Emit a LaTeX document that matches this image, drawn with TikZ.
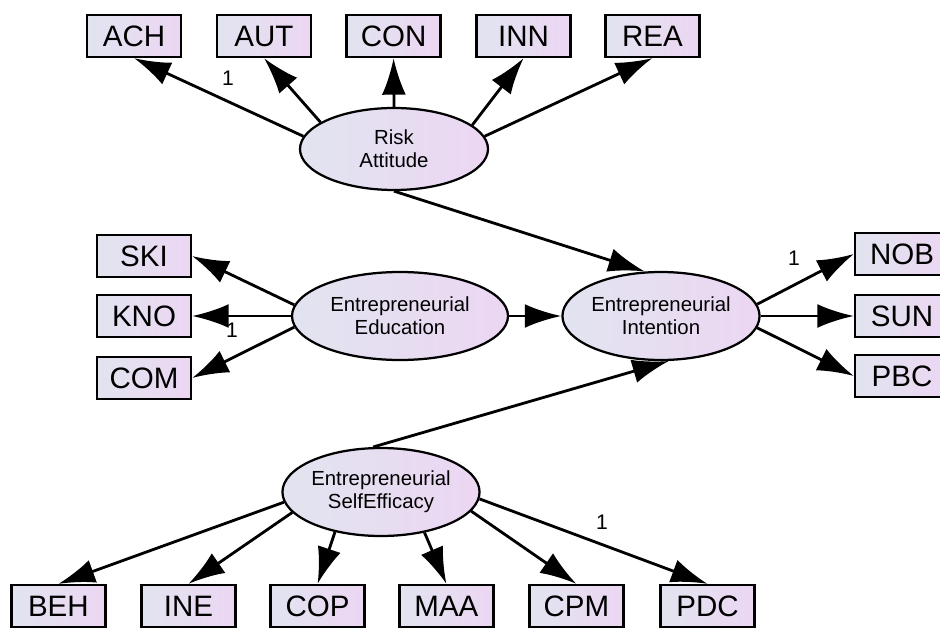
\documentclass[tikz,border=0pt]{standalone}
\usepackage{fontspec}
\setmainfont{Liberation Sans}
\usepackage{tikz}
\usetikzlibrary{shapes.geometric}
\usetikzlibrary{arrows.meta}
\definecolor{shadeL}{RGB}{226,228,240}
\definecolor{shadeR}{RGB}{236,214,242}
\tikzset{
  obs/.style={draw, line width=1.6pt, left color=shadeL, right color=shadeR, minimum width=2.35cm, minimum height=1.05cm, inner sep=0pt, font=\fontsize{21}{22}\selectfont},
  lat/.style={ellipse, draw, line width=1.6pt, left color=shadeL, right color=shadeR, inner sep=0pt, align=center, font=\fontsize{14.5}{16.5}\selectfont},
  arr/.style={line width=2pt, -{Latex[length=26pt,width=17pt]}},
  one/.style={font=\fontsize{15}{17}\selectfont}
}

\begin{document}
\begin{tikzpicture}
\useasboundingbox (0,0) rectangle (23.5,15.75);
% latent variables
\node[lat, minimum width=4.7cm, minimum height=2.05cm] (RA) at (9.85, 12.025) {Risk\\Attitude};
\node[lat, minimum width=5.4cm, minimum height=2.2cm] (EE) at (10.0, 7.85) {Entrepreneurial\\Education};
\node[lat, minimum width=4.8cm, minimum height=2.2cm] (EI) at (16.525, 7.85) {Entrepreneurial\\Intention};
\node[lat, minimum width=4.7cm, minimum height=2.2cm] (ES) at (9.525, 3.45) {Entrepreneurial\\SelfEfficacy};
% indicators
\node[obs] (ACH) at (3.35, 14.85) {ACH};
\node[obs] (AUT) at (6.6, 14.85) {AUT};
\node[obs] (CON) at (9.84, 14.85) {CON};
\node[obs] (INN) at (13.09, 14.85) {INN};
\node[obs] (REA) at (16.31, 14.85) {REA};
\node[obs] (SKI) at (3.6, 9.35) {SKI};
\node[obs] (KNO) at (3.6, 7.85) {KNO};
\node[obs] (COM) at (3.6, 6.3) {COM};
\node[obs] (NOB) at (22.55, 9.4) {NOB};
\node[obs] (SUN) at (22.55, 7.85) {SUN};
\node[obs] (PBC) at (22.55, 6.35) {PBC};
\node[obs] (BEH) at (1.46, 0.6) {BEH};
\node[obs] (INE) at (4.71, 0.6) {INE};
\node[obs] (COP) at (7.94, 0.6) {COP};
\node[obs] (MAA) at (11.16, 0.6) {MAA};
\node[obs] (CPM) at (14.41, 0.6) {CPM};
\node[obs] (PDC) at (17.69, 0.6) {PDC};

\draw[arr] (RA.172) -- (ACH.south);
\draw[arr] (RA.160) -- (AUT.south);
\draw[arr] (RA.north) -- (CON.south);
\draw[arr] (RA.17) -- (INN.south);
\draw[arr] (RA.8) -- (REA.south);

\draw[arr] (EE.174) -- (SKI.east);
\draw[arr] (EE.west) -- (KNO.east);
\draw[arr] (EE.186) -- (COM.east);

\draw[arr] (EI.7) -- (NOB.west);
\draw[arr] (EI.east) -- (SUN.west);
\draw[arr] (EI.353) -- (PBC.west);

\draw[arr] (ES.186) -- (BEH.north);
\draw[arr] (ES.193) -- (INE.north);
\draw[arr] (ES.221) -- (COP.north);
\draw[arr] (ES.317) -- (MAA.north);
\draw[arr] (ES.348) -- (CPM.north);
\draw[arr] (ES.356) -- (PDC.north);

% structural paths
\draw[arr] (RA.south) -- (EI.110);
\draw[arr] (EE.east) -- (EI.west);
\draw[arr] (ES.100) -- (EI.280);

% fixed loadings
\node[one] (oneRA) at (5.7, 13.8) {1};
\node[one] (oneEE) at (5.8, 7.5) {1};
\node[one] (oneEI) at (19.85, 9.3) {1};
\node[one] (oneES) at (15.05, 2.7) {1};
\end{tikzpicture}
\end{document}
